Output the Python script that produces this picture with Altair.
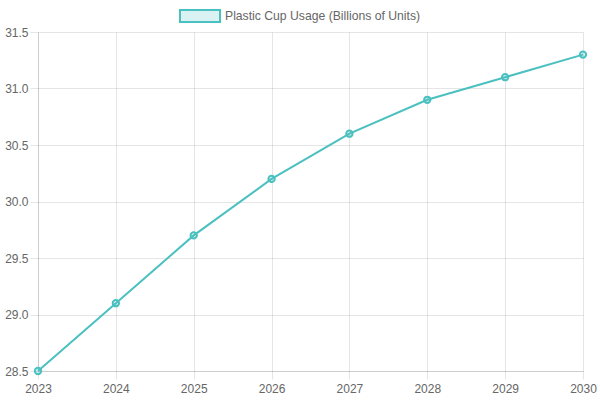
import altair as alt
import pandas as pd

years = [2023, 2024, 2025, 2026, 2027, 2028, 2029, 2030]
usage = [28.5, 29.1, 29.7, 30.2, 30.6, 30.9, 31.1, 31.3]
series_name = "Plastic Cup Usage (Billions of Units)"

df = pd.DataFrame({"year": years, "usage": usage, "series": [series_name] * len(years)})

teal = "rgb(75,192,192)"
teal_fill = "rgba(75,192,192,0.2)"
grid = "rgba(0,0,0,0.1)"
font = "Liberation Sans"

x = alt.X("year:Q", scale=alt.Scale(domain=[2023, 2030], nice=False, zero=False),
          axis=alt.Axis(values=years, format="d", title=None, labelFlush=False, labelOverlap=False))
y = alt.Y("usage:Q", scale=alt.Scale(domain=[28.5, 31.5], nice=False, zero=False),
          axis=alt.Axis(values=[28.5, 29.0, 29.5, 30.0, 30.5, 31.0, 31.5], format=".1f", title=None,
                        labelFlush=False, labelOverlap=False))

line = alt.Chart(df).mark_line(strokeWidth=2).encode(
    x=x, y=y,
    color=alt.Color("series:N", scale=alt.Scale(range=[teal]),
                    legend=alt.Legend(title=None, orient="none", legendX=141, legendY=-37,
                                      symbolType="M-1,-0.3H1V0.3H-1Z", symbolSize=1600,
                                      symbolStrokeWidth=2, symbolFillColor=teal_fill,
                                      symbolStrokeColor=teal, labelFont=font, labelFontSize=12.2,
                                      labelColor="#666", labelOffset=4, labelLimit=0))
)

pts = alt.Chart(df).mark_point(shape="circle", size=40, filled=False, strokeWidth=2,
                               stroke=teal, fill=teal_fill, opacity=1).encode(x=x, y=y)

chart = (line + pts).properties(
    width=545, height=339,
    autosize=alt.AutoSizeParams(type="none"),
    padding={"left": 38, "top": 32, "right": 17, "bottom": 29},
).configure_view(stroke=None).configure_axis(
    grid=True, gridColor=grid, domainColor=grid, tickColor=grid, tickSize=8,
    labelFont=font, labelFontSize=12, labelColor="#666", labelPadding=2,
).configure_axisY(labelPadding=2).configure_axisX(labelPadding=4)

chart.save("out.html", embed_options={"renderer": "svg", "actions": False})
